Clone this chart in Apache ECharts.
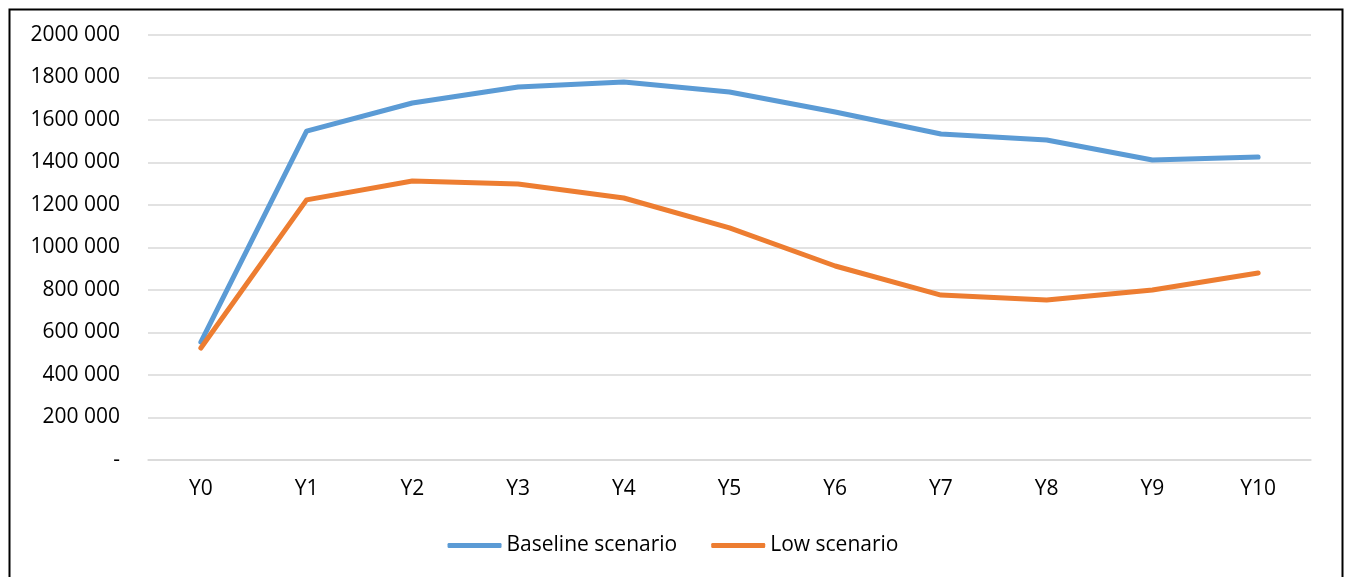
<!DOCTYPE html>
<html>
<head>
<meta charset="utf-8">
<script src="https://cdn.jsdelivr.net/npm/echarts@6/dist/echarts.min.js"></script>
<style>html,body{margin:0;padding:0;background:#fff}#c{width:1346px;height:577px}</style>
</head>
<body>
<div id="c"></div>
<script>
const categories = ['Y0','Y1','Y2','Y3','Y4','Y5','Y6','Y7','Y8','Y9','Y10'];
const baseline = [555000, 1548000, 1680000, 1755000, 1779000, 1732000, 1638000, 1534000, 1506000, 1412000, 1426000];
const low = [527000, 1224000, 1313000, 1299000, 1233000, 1092000, 913000, 776000, 753000, 800000, 880000];
const seriesNames = ['Baseline scenario', 'Low scenario'];

const chart = echarts.init(document.getElementById('c'));
const font = 'Open Sans';
chart.setOption({
  animation: false,
  backgroundColor: '#fff',
  graphic: [{
    type: 'rect', left: 7, top: 7,
    shape: { width: 1333, height: 620 },
    style: { fill: 'none', stroke: '#000', lineWidth: 2 },
    silent: true
  }],
  grid: { left: 148, right: 35, top: 35, bottom: 117 },
  legend: {
    top: 530, left: 'center',
    itemWidth: 54, itemHeight: 5, itemGap: 34,
    icon: 'roundRect',
    textStyle: { fontFamily: font, fontSize: 21, color: '#000' },
    data: seriesNames
  },
  xAxis: {
    type: 'category', data: categories, boundaryGap: true,
    axisLine: { show: true, lineStyle: { color: '#d9d9d9', width: 1.5 } },
    axisTick: { show: false },
    axisLabel: { fontFamily: font, fontSize: 21, color: '#000', margin: 19 }
  },
  yAxis: {
    type: 'value', min: 0, max: 2000000, interval: 200000,
    axisLine: { show: false }, axisTick: { show: false },
    splitLine: { lineStyle: { color: '#d9d9d9', width: 1.5 } },
    axisLabel: {
      fontFamily: font, fontSize: 21, color: '#000', margin: 28,
      formatter: v => v === 0 ? '-' : Math.floor(v / 1000) + ' 000'
    }
  },
  series: [
    { name: seriesNames[0], type: 'line', data: baseline, symbol: 'none',
      lineStyle: { color: '#5B9BD5', width: 5, cap: 'round', join: 'round' }, itemStyle: { color: '#5B9BD5' } },
    { name: seriesNames[1], type: 'line', data: low, symbol: 'none',
      lineStyle: { color: '#ED7D31', width: 5, cap: 'round', join: 'round' }, itemStyle: { color: '#ED7D31' } }
  ]
});
</script>
</body>
</html>
